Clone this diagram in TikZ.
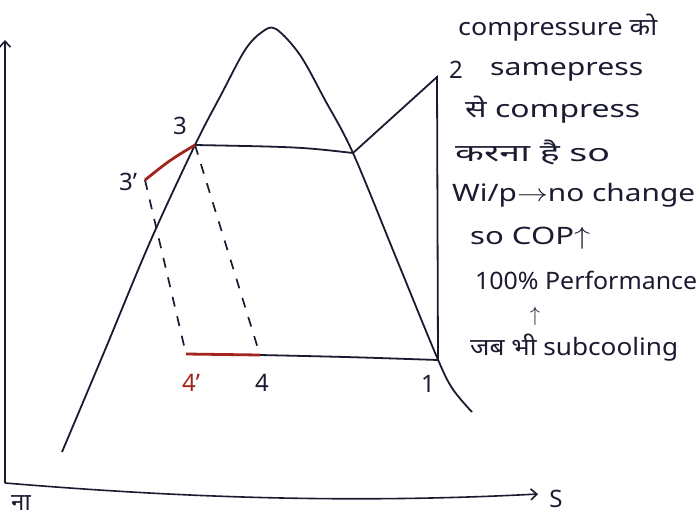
\documentclass[tikz,border=0pt]{standalone}
\usepackage{fontspec}
\setmainfont{Noto Sans}[Script=Devanagari]
\usetikzlibrary{arrows.meta}
\definecolor{ink}{HTML}{1A1B30}
\definecolor{redink}{HTML}{A3261E}
\newcommand{\hw}{\fontsize{24}{26}\selectfont}
\newcommand{\fitw}[2]{\resizebox{#1}{\height}{#2}}

\begin{document}
\begin{tikzpicture}[x={(1pt,0pt)},y={(0pt,-1pt)},
  dome/.style={draw=ink,line width=1.8pt},
  cyc/.style={draw=ink,line width=1.8pt},
  sub/.style={draw=redink,line width=2.8pt},
  dsh/.style={draw=ink,line width=1.7pt,dash pattern=on 10pt off 10pt},
  ax/.style={draw=ink,line width=1.6pt,-{Straight Barb[length=6pt,width=11pt]}},
  lbl/.style={font=\hw,text=ink,inner sep=0pt},
  note/.style={font=\hw,text=ink,anchor=west,inner sep=0pt},
]
  \useasboundingbox (0,0) rectangle (699,517);
  % axes
  \coordinate (o) at (5,483);
  \coordinate (ytop) at (5,40);
  \coordinate (xend) at (538,494);
  \draw[ax] (o) -- (ytop);
  \draw[ax] (o) .. controls (150,495) and (330,505) .. (xend);
  \node[lbl] (s) at (556,499) {S};
  \node[lbl] (cut) at (21,503) {ना};
  % saturation dome
  \draw[dome] plot[smooth,tension=0.55] coordinates {(62,452) (105,350) (150,242) (195,145)
    (222,93) (245,50) (262,32) (276,29) (300,55) (325,100) (353,153) (397,260)
    (436,355) (452,388) (472,412)};
  % cycle points
  \coordinate (p1) at (438,360);
  \coordinate (p2) at (437,77);
  \coordinate (pg) at (353,153);
  \coordinate (p3) at (195,145);
  \coordinate (p4) at (260,355);
  \coordinate (p3s) at (145,180);
  \coordinate (p4s) at (186,354);
  \draw[cyc] (p1) -- (p2) -- (pg);
  \draw[cyc] (pg) .. controls (300,147) .. (p3);
  \draw[cyc] (p4) .. controls (350,357) .. (p1);
  \draw[dsh] (p3) -- (p4);
  \draw[dsh] (p3s) -- (p4s);
  \draw[sub] (p3s) .. controls (170,160) .. (p3);
  \draw[sub] (p4s) -- (p4);
  % labels
  \node[lbl] (l3) at (180,126) {3};
  \node[lbl] (l3s) at (128,182) {3’};
  \node[lbl,text=redink] (l4s) at (191,383) {4’};
  \node[lbl] (l4) at (262,383) {4};
  \node[lbl] (l1) at (428,384) {1};
  \node[lbl] (l2) at (456,70) {2};
  % notes
  \node[note] (n1) at (458,28) {\fitw{199pt}{compressure को}};
  \node[note] (n2) at (490,72) {\fitw{153pt}{samepress}};
  \node[note] (n3) at (465,110) {\fitw{175pt}{से compress}};
  \node[note] (n4) at (455,152) {\fitw{155pt}{करना है so}};
  \node[note] (n5) at (452,195) {\fitw{243pt}{Wi/p$\rightarrow$no change}};
  \node[note] (n6) at (470,238) {\fitw{120pt}{so COP$\uparrow$}};
  \node[note] (n7) at (475,280) {\fitw{222pt}{100\% Performance}};
  \node[lbl,font=\fontsize{20}{22}\selectfont] (n8) at (535,316) {$\uparrow$};
  \node[note] (n9) at (470,348) {\fitw{208pt}{जब भी subcooling}};
\end{tikzpicture}
\end{document}
